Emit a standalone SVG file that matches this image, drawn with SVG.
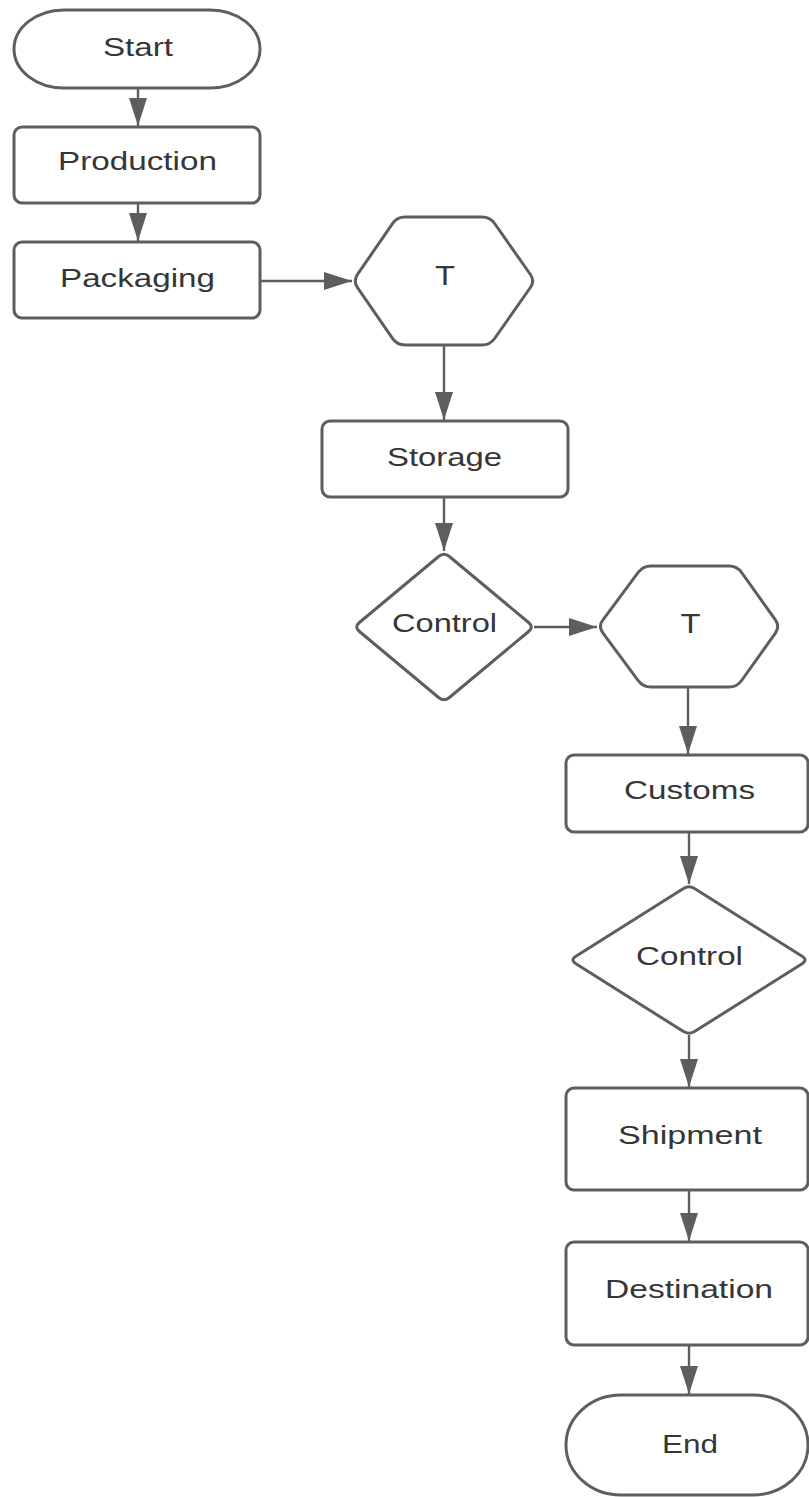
<svg xmlns="http://www.w3.org/2000/svg" width="809" height="1497" viewBox="0 0 809 1497">
  <style>
    .shape { fill: #ffffff; stroke: #5e5e5e; stroke-width: 3; stroke-linejoin: round; }
    .label { font-family: "Liberation Sans", Arial, sans-serif; font-size: 25px; fill: #363636; text-anchor: middle; }
    .big { font-size: 27px; }
    .edge { fill: none; stroke: #5e5e5e; stroke-width: 2.4; }
  </style>
  <defs>
    <marker id="arrow" viewBox="0 0 28 18" refX="28" refY="9" markerWidth="28" markerHeight="18" markerUnits="userSpaceOnUse" orient="auto">
      <path d="M0,0 L28,9 L0,18 Z" fill="#5e5e5e"/>
    </marker>
  </defs>
  <rect width="809" height="1497" fill="#ffffff"/>

  <!-- connectors -->
  <g id="connectors">
    <line class="edge" x1="138" y1="88" x2="138" y2="126" marker-end="url(#arrow)"/>
    <line class="edge" x1="138" y1="203" x2="138" y2="241" marker-end="url(#arrow)"/>
    <line class="edge" x1="260" y1="281" x2="352" y2="281" marker-end="url(#arrow)"/>
    <line class="edge" x1="444" y1="345" x2="444" y2="420" marker-end="url(#arrow)"/>
    <line class="edge" x1="444" y1="497" x2="444" y2="551" marker-end="url(#arrow)"/>
    <line class="edge" x1="534" y1="627" x2="597" y2="627" marker-end="url(#arrow)"/>
    <line class="edge" x1="688" y1="687" x2="688" y2="754" marker-end="url(#arrow)"/>
    <line class="edge" x1="689" y1="832" x2="689" y2="884" marker-end="url(#arrow)"/>
    <line class="edge" x1="689" y1="1035" x2="689" y2="1087" marker-end="url(#arrow)"/>
    <line class="edge" x1="689" y1="1190" x2="689" y2="1241" marker-end="url(#arrow)"/>
    <line class="edge" x1="689" y1="1345" x2="689" y2="1394" marker-end="url(#arrow)"/>
  </g>

  <g id="start">
    <rect class="shape" x="14" y="10" width="246" height="78" rx="50" ry="39"/>
    <text class="label" x="138" y="56" textLength="70" lengthAdjust="spacingAndGlyphs">Start</text>
  </g>

  <g id="production">
    <rect class="shape" x="14" y="127" width="246" height="76" rx="8" ry="8"/>
    <text class="label" x="137.5" y="170" textLength="159" lengthAdjust="spacingAndGlyphs">Production</text>
  </g>

  <g id="packaging">
    <rect class="shape" x="14" y="242" width="246" height="76" rx="8" ry="8"/>
    <text class="label" x="137.5" y="287" textLength="155" lengthAdjust="spacingAndGlyphs">Packaging</text>
  </g>

  <g id="transport-1">
    <path class="shape" d="M357.5,274.4 L392.5,223.6 Q397,217 405,217 L482,217 Q490,217 494.6,223.5 L530.4,274.5 Q535,281 530.4,287.5 L494.6,338.5 Q490,345 482,345 L405,345 Q397,345 392.5,338.4 L357.5,287.6 Q353,281 357.5,274.4 Z"/>
    <text class="label big" x="445" y="285" textLength="20" lengthAdjust="spacingAndGlyphs">T</text>
  </g>

  <g id="storage">
    <rect class="shape" x="322" y="421" width="246" height="76" rx="8" ry="8"/>
    <text class="label" x="444.5" y="466" textLength="115" lengthAdjust="spacingAndGlyphs">Storage</text>
  </g>

  <g id="control-1">
    <path class="shape" d="M438.6,556.5 Q444,552 449.4,556.5 L528.6,622.5 Q534,627 528.6,631.5 L449.4,697.5 Q444,702 438.6,697.5 L359.4,631.5 Q354,627 359.4,622.5 Z"/>
    <text class="label" x="444.5" y="632" textLength="105" lengthAdjust="spacingAndGlyphs">Control</text>
  </g>

  <g id="transport-2">
    <path class="shape" d="M602.8,620.1 L638.2,572.4 Q643,566 651,566 L729,566 Q737,566 741.6,572.5 L775.4,619.9 Q780,626.5 775.4,633.1 L741.6,680.5 Q737,687 729,687 L651,687 Q643,687 638.2,680.6 L602.8,632.9 Q598,626.5 602.8,620.1 Z"/>
    <text class="label big" x="690.5" y="633" textLength="20" lengthAdjust="spacingAndGlyphs">T</text>
  </g>

  <g id="customs">
    <rect class="shape" x="566" y="755" width="242" height="77" rx="8" ry="8"/>
    <text class="label" x="689.5" y="799" textLength="131" lengthAdjust="spacingAndGlyphs">Customs</text>
  </g>

  <g id="control-2">
    <path class="shape" d="M683.1,888.7 Q689,885 694.9,888.7 L802.1,956.3 Q808,960 802.1,963.7 L694.9,1031.3 Q689,1035 683.1,1031.3 L575.9,963.7 Q570,960 575.9,956.3 Z"/>
    <text class="label" x="689.5" y="965" textLength="107" lengthAdjust="spacingAndGlyphs">Control</text>
  </g>

  <g id="shipment">
    <rect class="shape" x="566" y="1088" width="242" height="102" rx="8" ry="8"/>
    <text class="label" x="690" y="1144" textLength="144" lengthAdjust="spacingAndGlyphs">Shipment</text>
  </g>

  <g id="destination">
    <rect class="shape" x="566" y="1242" width="242" height="103" rx="8" ry="8"/>
    <text class="label" x="689" y="1298" textLength="168" lengthAdjust="spacingAndGlyphs">Destination</text>
  </g>

  <g id="end">
    <rect class="shape" x="566" y="1395" width="242" height="100" rx="55" ry="50"/>
    <text class="label" x="690" y="1453" textLength="56" lengthAdjust="spacingAndGlyphs">End</text>
  </g>
</svg>
